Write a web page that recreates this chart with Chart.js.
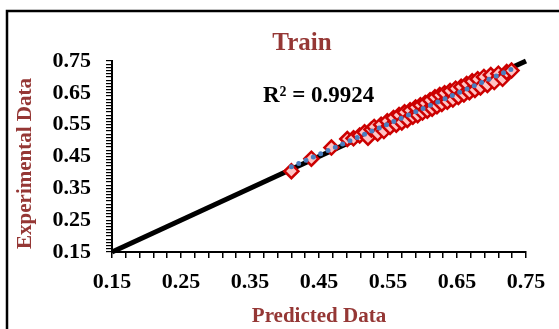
<!DOCTYPE html>
<html>
<head>
<meta charset="utf-8">
<script src="https://cdn.jsdelivr.net/npm/chart.js@4.4.1/dist/chart.umd.min.js"></script>
<style>
    html, body { margin: 0; padding: 0; background: #fff; }
    #wrap { width: 559px; height: 329px; position: relative; }
</style>
</head>
<body>
<div id="wrap"><canvas id="trainChart"></canvas></div>
<script>
// Predicted vs experimental values for the training set
const predicted = [
    0.410, 0.439, 0.468, 0.491, 0.500, 0.509, 0.516, 0.521, 0.526, 0.530,
    0.535, 0.540, 0.544, 0.549, 0.553, 0.558, 0.562, 0.566, 0.570, 0.574,
    0.578, 0.582, 0.586, 0.590, 0.593, 0.597, 0.600, 0.604, 0.607, 0.611,
    0.614, 0.618, 0.621, 0.625, 0.628, 0.632, 0.636, 0.640, 0.644, 0.648,
    0.652, 0.656, 0.660, 0.664, 0.668, 0.672, 0.676, 0.680, 0.684, 0.689,
    0.694, 0.699, 0.704, 0.710, 0.716, 0.722, 0.729
];
const experimental = [
    0.404, 0.443, 0.478, 0.505, 0.507, 0.516, 0.526, 0.509, 0.535, 0.543,
    0.522, 0.550, 0.530, 0.561, 0.543, 0.571, 0.550, 0.580, 0.557, 0.589,
    0.565, 0.595, 0.575, 0.604, 0.580, 0.611, 0.588, 0.618, 0.594, 0.627,
    0.600, 0.636, 0.608, 0.643, 0.615, 0.649, 0.622, 0.656, 0.629, 0.663,
    0.637, 0.669, 0.645, 0.678, 0.652, 0.686, 0.659, 0.693, 0.667, 0.700,
    0.675, 0.706, 0.684, 0.710, 0.694, 0.715, 0.720
];
// Ideal y = x line ends
const idealLine = [0.15, 0.75];
const axisMin = 0.15;
const axisMax = 0.75;
const majorTicks = ['0.15', '0.25', '0.35', '0.45', '0.55', '0.65', '0.75'];
const chartTitle = 'Train';
const yTitle = 'Experimental Data';
const r2Label = 'R\u00B2 = 0.9924';

const serif = "'Liberation Serif', 'Times New Roman', serif";
const titleRed = '#953735';

const points = predicted.map((x, i) => ({ x: x, y: experimental[i] }));

// Least squares fit for the trendline
const n = predicted.length;
const mx = predicted.reduce((a, b) => a + b, 0) / n;
const my = experimental.reduce((a, b) => a + b, 0) / n;
let sxy = 0, sxx = 0;
for (let i = 0; i < n; i++) {
    sxy += (predicted[i] - mx) * (experimental[i] - my);
    sxx += (predicted[i] - mx) * (predicted[i] - mx);
}
const slope = sxy / sxx;
const intercept = my - slope * mx;
const xLo = Math.min(...predicted), xHi = Math.max(...predicted);
const trend = [
    { x: xLo, y: intercept + slope * xLo },
    { x: xHi, y: intercept + slope * xHi }
];

function majorLabel(value) {
    const s = value.toFixed(2);
    return majorTicks.includes(s) ? s : '';
}

// Outer frame, titles and the R² text
const extras = {
    id: 'extras',
    beforeDraw(chart) {
        const ctx = chart.ctx;
        ctx.save();
        ctx.fillStyle = '#fff';
        ctx.fillRect(0, 0, chart.width, chart.height);
        ctx.strokeStyle = '#000';
        ctx.lineWidth = 2.5;
        ctx.strokeRect(7, 11, 600, 360);
        ctx.restore();
    },
    afterDraw(chart) {
        const ctx = chart.ctx;
        const area = chart.chartArea;
        ctx.save();
        ctx.textBaseline = 'middle';
        ctx.textAlign = 'center';
        ctx.font = 'bold 25px ' + serif;
        ctx.fillStyle = titleRed;
        ctx.fillText(chartTitle, area.left + 190, area.top - 17);

        // rotated y-axis title, a bit below the axis middle
        ctx.save();
        ctx.translate(26, (area.top + area.bottom) / 2 + 7);
        ctx.rotate(-Math.PI / 2);
        ctx.font = 'bold 21px ' + serif;
        ctx.fillText(yTitle, 0, 0);
        ctx.restore();

        ctx.font = 'bold 23px ' + serif;
        ctx.fillStyle = '#000';
        ctx.textAlign = 'left';
        ctx.fillText(r2Label, area.left + 151, area.top + 35);
        ctx.restore();
    }
};

const ctx = document.getElementById('trainChart').getContext('2d');
const trainChart = new Chart(ctx, {
    type: 'scatter',
    data: {
        datasets: [
            {
                // dotted linear trendline
                type: 'line',
                data: trend,
                borderColor: '#4a7ebf',
                borderWidth: 5,
                borderDash: [0, 8],
                borderCapStyle: 'round',
                pointRadius: 0,
                fill: false,
                order: 0
            },
            {
                data: points,
                pointStyle: 'rectRot',
                pointRadius: 7,
                pointHoverRadius: 7,
                backgroundColor: '#ffc4c4',
                borderColor: '#cc0000',
                borderWidth: 2.5,
                order: 1
            },
            {
                type: 'line',
                data: idealLine.map(v => ({ x: v, y: v })),
                borderColor: '#000',
                borderWidth: 5,
                pointRadius: 0,
                fill: false,
                clip: false,
                order: 2
            }
        ]
    },
    options: {
        responsive: true,
        maintainAspectRatio: false,
        animation: false,
        layout: { padding: { top: 61, left: 0, right: 33, bottom: 0 } },
        plugins: {
            legend: { display: false },
            tooltip: { enabled: false },
            title: { display: false }
        },
        scales: {
            x: {
                type: 'linear',
                min: axisMin,
                max: axisMax,
                afterFit(scale) { scale.height = 77; },
                ticks: {
                    stepSize: 0.02,
                    autoSkip: false,
                    maxRotation: 0,
                    padding: 11,
                    color: '#000',
                    font: { family: serif, size: 22, weight: 'bold' },
                    callback: majorLabel
                },
                grid: { drawOnChartArea: false, tickLength: 6, color: '#000', lineWidth: 1.5 },
                border: { color: '#000', width: 2 },
                title: {
                    display: true,
                    text: 'Predicted Data',
                    color: titleRed,
                    font: { family: serif, size: 21, weight: 'bold' },
                    padding: { top: 0, bottom: 0 }
                }
            },
            y: {
                type: 'linear',
                min: axisMin,
                max: axisMax,
                afterFit(scale) { scale.width = 112; },
                ticks: {
                    stepSize: 0.01,
                    autoSkip: false,
                    padding: 15,
                    color: '#000',
                    font: { family: serif, size: 22, weight: 'bold' },
                    callback: majorLabel
                },
                grid: { drawOnChartArea: false, tickLength: 6, color: '#000', lineWidth: 1.2 },
                border: { color: '#000', width: 2 },
                title: { display: false }
            }
        }
    },
    plugins: [extras]
});
</script>
</body>
</html>
